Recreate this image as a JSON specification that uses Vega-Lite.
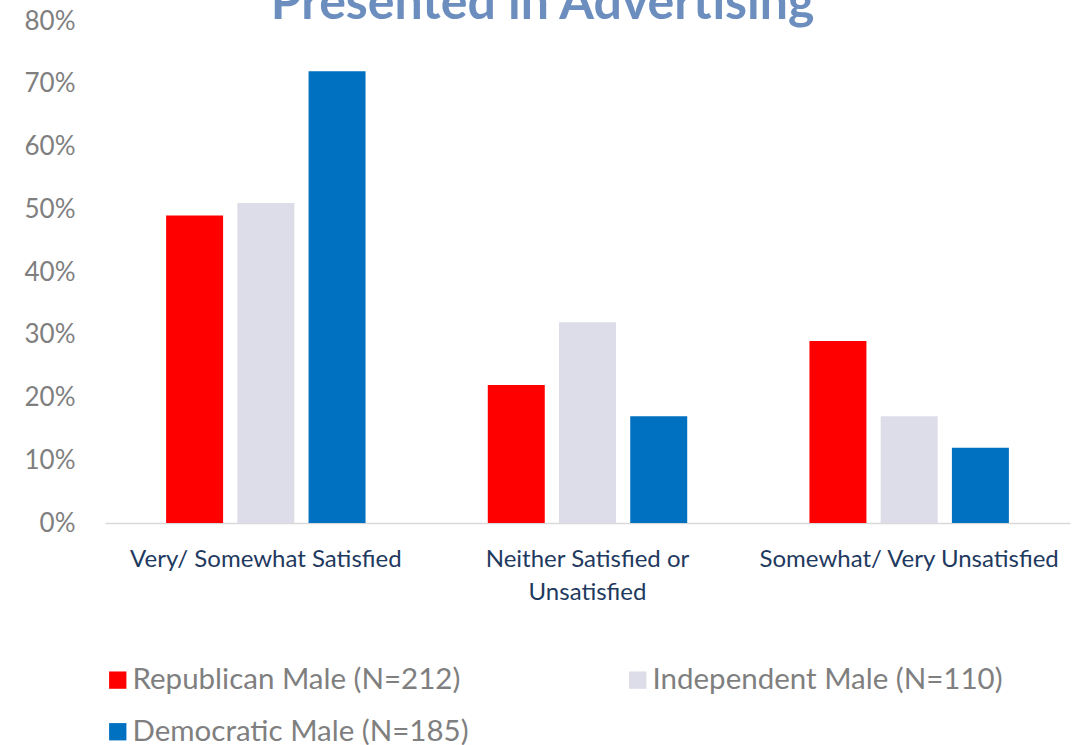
{
  "$schema": "https://vega.github.io/schema/vega-lite/v6.json",
  "autosize": {"type": "none"},
  "width": 965,
  "height": 502,
  "padding": {"left": 105, "top": 21, "right": 18, "bottom": 222},
  "background": "white",
  "title": {
    "text": "Presented in Advertising",
    "font": "Lato",
    "fontSize": 50,
    "fontWeight": "bold",
    "color": "#6C8EBF",
    "anchor": "middle",
    "dx": -45,
    "baseline": "alphabetic",
    "offset": -61
  },
  "data": {
    "values": [
      {"category": "Very/ Somewhat Satisfied", "group": "Republican Male (N=212)", "value": 0.49},
      {"category": "Very/ Somewhat Satisfied", "group": "Independent Male (N=110)", "value": 0.51},
      {"category": "Very/ Somewhat Satisfied", "group": "Democratic Male (N=185)", "value": 0.72},
      {"category": "Neither Satisfied or Unsatisfied", "group": "Republican Male (N=212)", "value": 0.22},
      {"category": "Neither Satisfied or Unsatisfied", "group": "Independent Male (N=110)", "value": 0.32},
      {"category": "Neither Satisfied or Unsatisfied", "group": "Democratic Male (N=185)", "value": 0.17},
      {"category": "Somewhat/ Very Unsatisfied", "group": "Republican Male (N=212)", "value": 0.29},
      {"category": "Somewhat/ Very Unsatisfied", "group": "Independent Male (N=110)", "value": 0.17},
      {"category": "Somewhat/ Very Unsatisfied", "group": "Democratic Male (N=185)", "value": 0.12}
    ]
  },
  "mark": {"type": "bar"},
  "encoding": {
    "x": {
      "field": "category",
      "type": "nominal",
      "sort": ["Very/ Somewhat Satisfied", "Neither Satisfied or Unsatisfied", "Somewhat/ Very Unsatisfied"],
      "scale": {"paddingInner": 0.38, "paddingOuter": 0.19},
      "axis": {
        "title": null,
        "labelAngle": 0,
        "labelFont": "Lato",
        "labelFontSize": 24,
        "labelColor": "#1F3A5F",
        "labelPadding": 24,
        "labelLineHeight": 33,
        "labelBaseline": "top",
        "labelExpr": "datum.value == 'Neither Satisfied or Unsatisfied' ? ['Neither Satisfied or', 'Unsatisfied'] : datum.value",
        "ticks": false,
        "domainColor": "#D9D9D9",
        "domainWidth": 1.5,
        "labelLimit": 400
      }
    },
    "xOffset": {
      "field": "group",
      "type": "nominal",
      "sort": ["Republican Male (N=212)", "Independent Male (N=110)", "Democratic Male (N=185)"],
      "scale": {"paddingInner": 0.2, "paddingOuter": 0}
    },
    "y": {
      "field": "value",
      "type": "quantitative",
      "scale": {"domain": [0, 0.8]},
      "axis": {
        "title": null,
        "format": "%",
        "values": [0, 0.1, 0.2, 0.3, 0.4, 0.5, 0.6, 0.7, 0.8],
        "grid": false,
        "domain": false,
        "ticks": false,
        "labelFont": "Lato",
        "labelFontSize": 26,
        "labelColor": "#7F7F7F",
        "labelPadding": 30
      }
    },
    "color": {
      "field": "group",
      "type": "nominal",
      "scale": {
        "domain": ["Republican Male (N=212)", "Democratic Male (N=185)", "Independent Male (N=110)"],
        "range": ["#FF0000", "#0070C0", "#DCDDE8"]
      },
      "legend": {
        "title": null,
        "orient": "none",
        "legendX": -2,
        "legendY": 644,
        "columns": 2,
        "columnPadding": 154,
        "rowPadding": 21,
        "symbolType": "square",
        "symbolSize": 300,
        "symbolStrokeWidth": 0,
        "symbolOpacity": 1,
        "labelFont": "Lato",
        "labelFontSize": 29.5,
        "labelColor": "#7F7F7F",
        "labelOffset": 0,
        "labelLimit": 500
      }
    }
  },
  "config": {"view": {"stroke": null}}
}
